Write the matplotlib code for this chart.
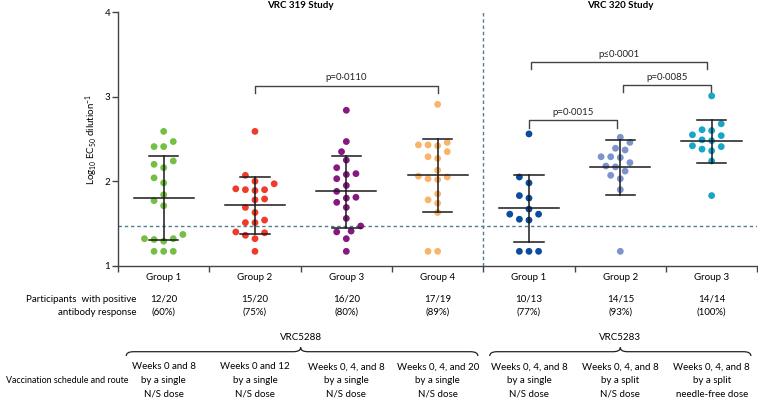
import matplotlib
matplotlib.use("Agg")
import matplotlib.pyplot as plt
from matplotlib.path import Path
from matplotlib.patches import PathPatch
from matplotlib.transforms import blended_transform_factory

plt.rcParams['font.family'] = ['Lato', 'DejaVu Sans']
plt.rcParams['mathtext.fontset'] = 'custom'
plt.rcParams['mathtext.rm'] = 'Lato'
plt.rcParams['mathtext.default'] = 'regular'

# ---- data ----
group_labels = ['Group 1', 'Group 2', 'Group 3', 'Group 4', 'Group 1', 'Group 2', 'Group 3']
colors = ['#74bf44', '#ef3b2c', '#86197f', '#fbb36c', '#0b4c9c', '#7d93cb', '#18a5c8']

g1 = [2.59, 2.47, 2.41, 2.41, 2.24, 2.20, 2.16, 2.04, 1.98, 1.84, 1.77, 1.71,
      1.37, 1.32, 1.32, 1.31, 1.29, 1.17, 1.17, 1.17]
g2 = [2.59, 2.07, 2.00, 1.97, 1.91, 1.90, 1.89, 1.90, 1.79, 1.78, 1.69, 1.63,
      1.54, 1.51, 1.51, 1.40, 1.39, 1.36, 1.32, 1.17]
g3 = [2.84, 2.47, 2.35, 2.25, 2.16, 2.09, 2.08, 2.03, 1.95, 1.88, 1.81, 1.80,
      1.75, 1.69, 1.56, 1.47, 1.41, 1.40, 1.32, 1.17]
g4 = [2.91, 2.46, 2.43, 2.43, 2.42, 2.35, 2.29, 2.27, 2.13, 2.06, 2.05, 2.03,
      2.02, 1.85, 1.78, 1.74, 1.63, 1.17, 1.17]
g5 = [2.56, 2.05, 1.98, 1.83, 1.80, 1.67, 1.61, 1.61, 1.55, 1.54, 1.17, 1.17, 1.17]
g6 = [2.52, 2.46, 2.39, 2.37, 2.29, 2.29, 2.28, 2.22, 2.18, 2.17, 2.12, 2.07,
      2.03, 1.90, 1.17]
g7 = [3.01, 2.68, 2.61, 2.60, 2.55, 2.54, 2.49, 2.48, 2.42, 2.41, 2.38, 2.36,
      2.24, 1.83]
groups = [g1, g2, g3, g4, g5, g6, g7]

means = [1.80, 1.72, 1.88, 2.07, 1.68, 2.17, 2.48]
sd_upper = [2.30, 2.05, 2.30, 2.50, 2.07, 2.49, 2.73]
sd_lower = [1.30, 1.38, 1.45, 1.63, 1.28, 1.84, 2.22]

positive = ['12/20', '15/20', '16/20', '17/19', '10/13', '14/15', '14/14']
positive_pct = ['(60%)', '(75%)', '(80%)', '(89%)', '(77%)', '(93%)', '(100%)']

schedules = [
    ['Weeks 0 and 8', 'by a single', 'N/S dose'],
    ['Weeks 0 and 12', 'by a single', 'N/S dose'],
    ['Weeks 0, 4, and 8', 'by a single', 'N/S dose'],
    ['Weeks 0, 4, and 20', 'by a single', 'N/S dose'],
    ['Weeks 0, 4, and 8', 'by a single', 'N/S dose'],
    ['Weeks 0, 4, and 8', 'by a split', 'N/S dose'],
    ['Weeks 0, 4, and 8', 'by a split', 'needle-free dose'],
]

threshold = 1.47

# comparisons: (left x, right x, bracket level, label)
comparisons = [
    (1.0, 3.0, 3.13, 'p=0·0110'),
    (4.02, 5.95, 3.41, 'p≤0·0001'),
    (5.03, 5.99, 3.14, 'p=0·0085'),
    (4.0, 4.96, 2.72, 'p=0·0015'),
]

# ---- figure ----
W, H = 758, 399
fig = plt.figure(figsize=(W / 100, H / 100), dpi=100)
ax = fig.add_axes([118 / W, 1 - 265.7 / H, (757.3 - 118) / W, (265.7 - 12.3) / H])
ax.set_xlim(-0.5, 6.5)
ax.set_ylim(1, 4)

XPX = (757.3 - 118) / 7.0
YPX = (265.7 - 12.3) / 3.0


def swarm(vals, h=4.8, d=8.8):
    placed = []
    offs = [0.0] * len(vals)
    order = sorted(range(len(vals)), key=lambda i: vals[i])
    cands = [0.0] + [s * j * h for j in range(1, 10) for s in (-1, 1)]
    for i in order:
        y = vals[i] * YPX
        for c in cands:
            if all((c - px) ** 2 + (y - py) ** 2 >= d * d for px, py in placed):
                break
        placed.append((c, y))
        offs[i] = c / XPX
    return offs


for i, vals in enumerate(groups):
    offs = swarm(vals)
    ax.scatter([i + o for o in offs], vals, s=24, color=colors[i],
               edgecolors='none', zorder=3)
    ax.plot([i - 0.33, i + 0.33], [means[i], means[i]], color='#1a1a1a', lw=1.1, zorder=4)
    ax.plot([i, i], [sd_lower[i], sd_upper[i]], color='#1a1a1a', lw=1.1, zorder=4)
    for v in (sd_lower[i], sd_upper[i]):
        ax.plot([i - 0.16, i + 0.16], [v, v], color='#1a1a1a', lw=1.1, zorder=4)

ax.axhline(threshold, color='#4f7f91', lw=1.0, ls=(0, (2.5, 2)), zorder=1)
ax.axvline(3.5, color='#4f7f91', lw=1.0, ls=(0, (2.5, 2)), zorder=1)

for x0, x1, lev, lab in comparisons:
    ax.plot([x0, x0, x1, x1], [lev - 0.085, lev, lev, lev - 0.085],
            color='#444444', lw=1.0, zorder=2)
    ax.text((x0 + x1) / 2, lev + 0.04, lab, ha='center', va='bottom', fontsize=7, color='#222222')

# axes styling
for side in ('top', 'right'):
    ax.spines[side].set_visible(False)
for side in ('left', 'bottom'):
    ax.spines[side].set_color('#444444')
    ax.spines[side].set_linewidth(1.0)
ax.set_yticks([1, 2, 3, 4])
ax.set_yticklabels(['1', '2', '3', '4'])
ax.set_xticks([k - 0.5 for k in range(8)])
ax.set_xticklabels([])
ax.tick_params(axis='both', direction='out', length=4.5, width=1.0, color='#444444',
               labelsize=7, pad=1)

fig.text(92 / W, 1 - 139 / H, r'Log$_{10}$ EC$_{50}$ dilution$^{-1}$', rotation=90,
         ha='center', va='center', fontsize=7)

tr = blended_transform_factory(ax.transData, fig.transFigure)
ax.text(1.5, 1 - 5 / H, 'VRC 319 Study', transform=tr, ha='center', va='center',
        fontsize=7, fontweight='bold')
ax.text(5, 1 - 5 / H, 'VRC 320 Study', transform=tr, ha='center', va='center',
        fontsize=7, fontweight='bold')

for i in range(7):
    ax.text(i, 1 - 277.7 / H, group_labels[i], transform=tr, ha='center', va='center', fontsize=7)
    ax.text(i, 1 - 299 / H, positive[i], transform=tr, ha='center', va='center', fontsize=7)
    ax.text(i, 1 - 312.3 / H, positive_pct[i], transform=tr, ha='center', va='center', fontsize=7)
    for j, line in enumerate(schedules[i]):
        ax.text(i, 1 - (366.7 + 13.8 * j) / H, line, transform=tr, ha='center',
                va='center', fontsize=7)

fig.text(136.7 / W, 1 - 299 / H, 'Participants  with positive', ha='right', va='center', fontsize=7)
fig.text(136.7 / W, 1 - 312.3 / H, 'antibody response', ha='right', va='center', fontsize=7)
fig.text(129 / W, 1 - 380.7 / H, 'Vaccination schedule and route', ha='right', va='center',
         fontsize=6.4)

ax.text(1.5, 1 - 337.3 / H, 'VRC5288', transform=tr, ha='center', va='center', fontsize=7)
ax.text(5, 1 - 337.3 / H, 'VRC5283', transform=tr, ha='center', va='center', fontsize=7)


def brace(x0, x1, xm, r=0.08):
    ye, yb, yp = 1 - 356 / H, 1 - 351.7 / H, 1 - 347.5 / H
    verts = [(x0, ye), (x0, yb), (x0 + r, yb),
             (xm - r, yb), (xm, yb), (xm, yp),
             (xm, yb), (xm + r, yb),
             (x1 - r, yb), (x1, yb), (x1, ye)]
    codes = [Path.MOVETO, Path.CURVE3, Path.CURVE3,
             Path.LINETO, Path.CURVE3, Path.CURVE3,
             Path.CURVE3, Path.CURVE3,
             Path.LINETO, Path.CURVE3, Path.CURVE3]
    ax.add_patch(PathPatch(Path(verts, codes), transform=tr, fill=False,
                           edgecolor='#222222', lw=0.9, clip_on=False))


brace(-0.41, 3.44, 1.5)
brace(3.57, 6.43, 5.0)

fig.savefig('out.png', dpi=100)
